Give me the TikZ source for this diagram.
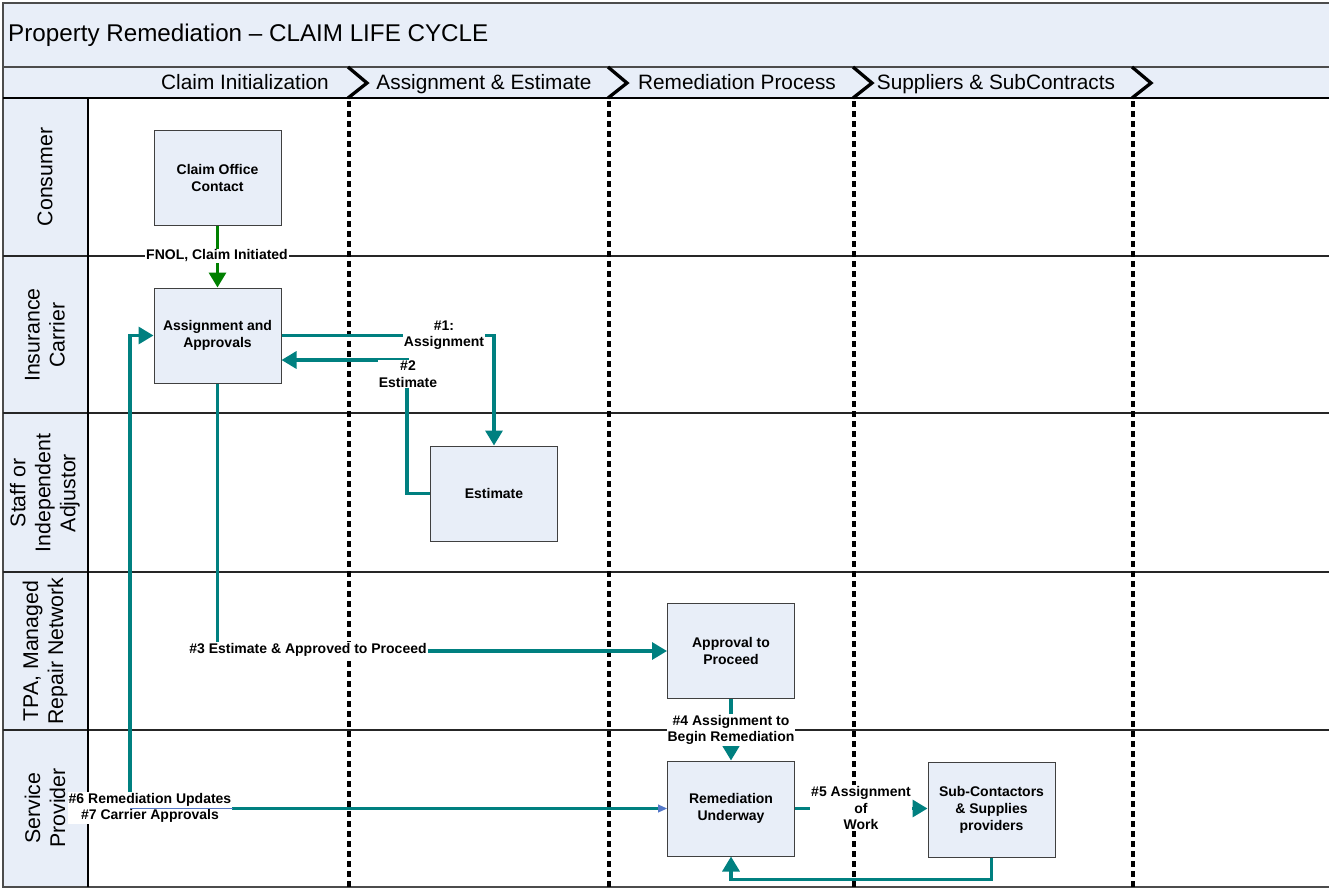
\documentclass[tikz,border=0pt]{standalone}
\usepackage{fontspec}
\setmainfont{Liberation Sans}
\usetikzlibrary{arrows.meta}

\definecolor{laneFill}{RGB}{232,238,248}
\definecolor{flowTeal}{RGB}{0,128,128}
\definecolor{flowGreen}{RGB}{0,128,0}
\definecolor{flowBlue}{RGB}{84,120,200}
\definecolor{boxEdge}{RGB}{64,64,64}

\begin{document}
\begin{tikzpicture}[
    x=1pt, y=-1pt,
    procBox/.style={draw=boxEdge, line width=1pt, fill=laneFill, minimum width=127pt, minimum height=95pt, align=center, font=\bfseries\fontsize{14}{17}\selectfont},
    laneLabel/.style={rotate=90, align=center, font=\fontsize{21.3}{25}\selectfont},
    phaseLabel/.style={anchor=base, inner sep=0pt, font=\fontsize{20.8}{24}\selectfont},
    flowLabel/.style={fill=white, inner sep=1pt, align=center, font=\bfseries\fontsize{14}{16.5}\selectfont},
    tealLine/.style={draw=flowTeal, line width=3.3pt},
    blueLine/.style={draw=flowBlue, line width=1pt},
    phaseEdge/.style={line width=3.3pt, line join=miter},
    phaseDots/.style={line width=3.5pt, dash pattern=on 6pt off 4pt},
    >={Triangle[length=15pt, width=17pt]},
    every node/.style={
        text centered,
        }
        ]
    \useasboundingbox (0,0) rectangle (1329,889);

    \fill[laneFill] (3,3) rectangle (1330,98);
    \fill[laneFill] (3,98) rectangle (88,887);
    \draw[line width=1.2pt, draw=black!70] (1330,3) -- (3,3) -- (3,887) -- (1330,887);
    \draw[line width=1.2pt, draw=black!70] (3,67) -- (1330,67);
    \draw[line width=1.2pt] (3,98) -- (1330,98);
    \foreach \ly in {256,413,572,730}
        \draw[line width=1.2pt, draw=black!85] (3,\ly) -- (1330,\ly);
    \draw[line width=1.2pt] (88,98) -- (88,887);
    \foreach \px in {349,609,854,1133} {
        \draw[phaseEdge] (\px-1,67) -- (\px+18,83) -- (\px-1,98);
        \draw[phaseDots] (\px,101) -- (\px,887);
    }

    \node[anchor=west, inner sep=0pt, font=\fontsize{24.2}{28}\selectfont] (title) at (8,35) {Property Remediation – CLAIM LIFE CYCLE};

    \node[phaseLabel] (claimInit) at (245,89) {Claim Initialization};
    \node[phaseLabel] (assignEst) at (484,89) {Assignment \& Estimate};
    \node[phaseLabel] (remProcess) at (737,89) {Remediation Process};
    \node[phaseLabel] (suppliers) at (996,89) {Suppliers \& SubContracts};

    \node[laneLabel] (consumer) at (45,177) {Consumer};
    \node[laneLabel] (carrier) at (45,335) {Insurance\\Carrier};
    \node[laneLabel] (adjustor) at (45,493) {Staff or\\Independent\\Adjustor};
    \node[laneLabel] (tpa) at (45,651) {TPA, Managed\\Repair Network};
    \node[laneLabel] (provider) at (45,808) {Service\\Provider};

    \node[procBox] (claimContact) at (217.5,177.5) {Claim Office\\Contact};
    \node[procBox] (assign) at (217.5,335.5) {Assignment and\\Approvals};
    \node[procBox] (estimate) at (494,493.5) {Estimate};
    \node[procBox] (approve) at (731,651) {Approval to\\Proceed};
    \node[procBox] (remedy) at (731,808.5) {Remediation\\Underway};
    \node[procBox] (subCon) at (991.5,809.5) {Sub-Contactors\\\& Supplies\\providers};

    \draw[->, draw=flowGreen, line width=3.3pt] (claimContact.south) -- (assign.north);
    \node[flowLabel] (fnolLabel) at (217,256) {FNOL, Claim Initiated};

    \draw[tealLine, ->] (assign.east) -| (estimate.north);
    \node[flowLabel] (oneLabel) at (444,335) {\#1:\\Assignment};

    \coordinate (twoBend) at (407,360);
    \draw[tealLine, ->] (estimate.west) -| (twoBend) -- (assign.east |- twoBend);
    \node[flowLabel] (twoLabel) at (408,374) {\#2\\Estimate};

    \draw[tealLine, ->] (assign.south) |- (approve.west);
    \node[flowLabel] (threeLabel) at (308,650) {\#3 Estimate \& Approved to Proceed};

    \draw[tealLine, ->] (approve.south) -- (remedy.north);
    \node[flowLabel] (fourLabel) at (731,730) {\#4 Assignment to\\Begin Remediation};

    \draw[tealLine, ->] (remedy.east) -- (remedy.east -| subCon.west);
    \node[flowLabel] (fiveLabel) at (861,808) {\#5 Assignment\\of\\Work};

    \draw[tealLine, ->] (subCon.south) -- ++(0,22) -| (remedy.south);

    \coordinate (updBend) at (130,808.5);
    \draw[blueLine, ->, >={Triangle[length=9pt, width=8pt]}] (updBend) -- (remedy.west);
    \draw[tealLine, ->, shorten <=9pt] (remedy.west) -- (updBend) |- (assign.west);
    \node[flowLabel] (sixLabel) at (150,808) {\#6 Remediation Updates\\\#7 Carrier Approvals};
    \draw[blueLine] (updBend) -- (sixLabel.east |- updBend);
\end{tikzpicture}
\end{document}
